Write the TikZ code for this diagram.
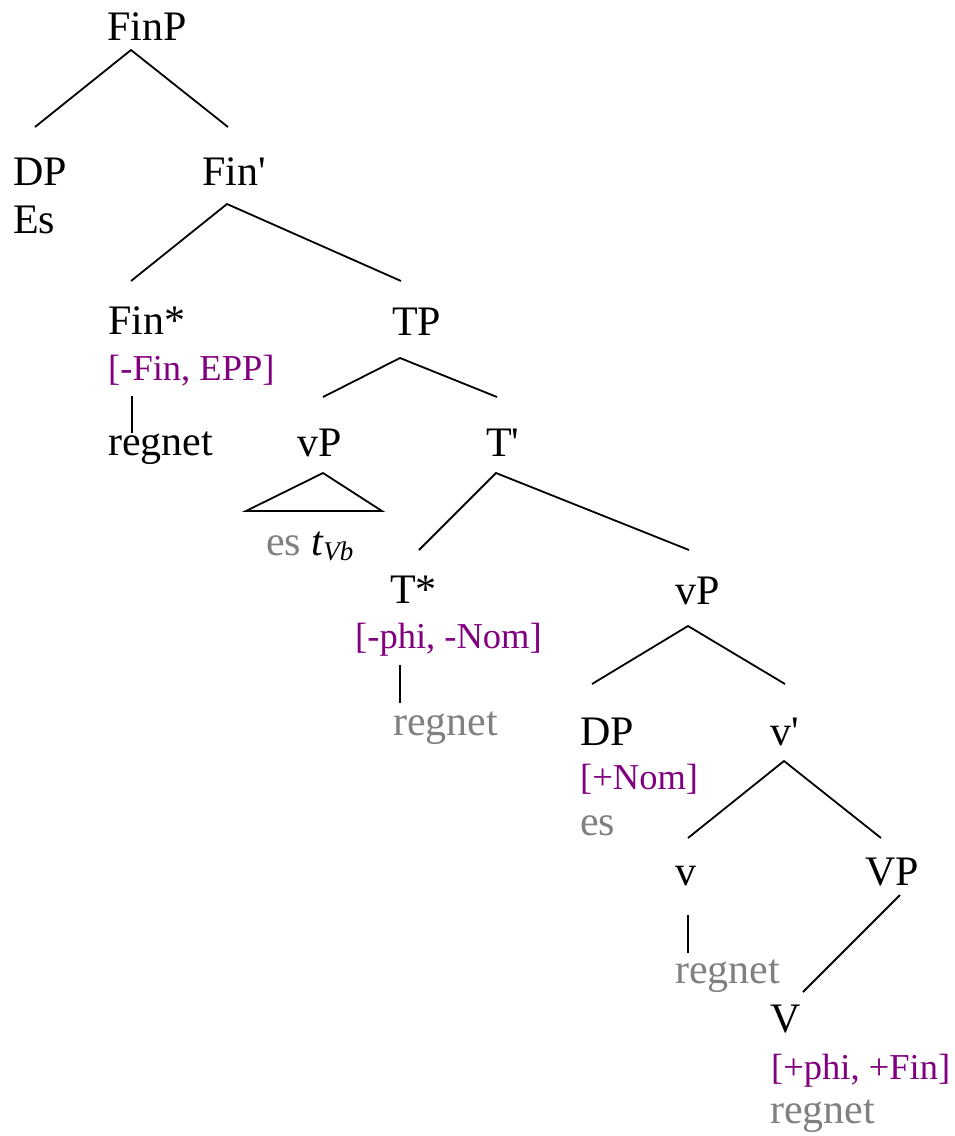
\documentclass[tikz,border=0pt]{standalone}
\usepackage{fontspec}
\setmainfont{Liberation Serif}
\usepackage{tikz}
\definecolor{featpurple}{RGB}{128,0,128}
\definecolor{tracegray}{RGB}{128,128,128}

\begin{document}
\begin{tikzpicture}[x=1pt,y=-1pt,
  lab/.style={anchor=base west,inner sep=0pt,font=\fontsize{42}{48}\selectfont},
  feat/.style={lab,text=featpurple,font=\fontsize{36.5}{42}\selectfont},
  trace/.style={lab,text=tracegray},
  branch/.style={line width=1.8pt}]
\useasboundingbox[fill=white] (0,0) rectangle (955,1136);
% labels
\node[lab] (FinP) at (107,40) {FinP};
\node[lab] (DP) at (13,185) {DP};
\node[lab] (Es) at (13,233) {Es};
\node[lab] (Finbar) at (202,185) {Fin\textquotesingle};
\node[lab] (Finstar) at (108,334) {Fin*};
\node[feat] (Finfeat) at (108,380) {[-Fin, EPP]};
\node[lab] (Finword) at (108,455) {regnet};
\node[lab] (TP) at (392,335) {TP};
\node[lab] (vPa) at (297,456) {vP};
\node[lab] (Tbar) at (486,456) {T\textquotesingle};
\node[lab] (vPaword) at (266,555)
  {\textcolor{tracegray}{es} \itshape t\raisebox{-5pt}{\fontsize{27}{27}\selectfont Vb}};
\node[lab] (Tstar) at (390,603) {T*};
\node[feat] (Tfeat) at (355,648) {[-phi, -Nom]};
\node[trace] (Tword) at (393,735) {regnet};
\node[lab] (vPb) at (675,604) {vP};
\node[lab] (DPb) at (580,745) {DP};
\node[feat] (DPfeat) at (580,789) {[+Nom]};
\node[trace] (DPword) at (580,835) {es};
\node[lab] (vbar) at (770,745) {v\textquotesingle};
\node[lab] (v) at (675,885) {v};
\node[trace] (vword) at (675,983) {regnet};
\node[lab] (VP) at (865,885) {VP};
\node[lab] (V) at (770,1032) {V};
\node[feat] (Vfeat) at (771,1079) {[+phi, +Fin]};
\node[trace] (Vword) at (770,1123) {regnet};
% branch points
\coordinate (FinP-d) at (131,50);
\coordinate (DP-u) at (35,127);
\coordinate (Finbar-u) at (228,127);
\coordinate (Finbar-d) at (227,204);
\coordinate (Finstar-u) at (131,281);
\coordinate (TP-u) at (401,281);
\coordinate (Finfeat-d) at (132,396);
\coordinate (Finword-u) at (132,433);
\coordinate (TP-d) at (400,358);
\coordinate (vPa-u) at (323,397);
\coordinate (Tbar-u) at (497,397);
\coordinate (vPa-d) at (323,473);
\coordinate (vPa-l) at (246,511);
\coordinate (vPa-r) at (382,511);
\coordinate (Tbar-d) at (496,473);
\coordinate (Tstar-u) at (419,550);
\coordinate (vPb-u) at (689,550);
\coordinate (Tfeat-d) at (400,665);
\coordinate (Tword-u) at (400,703);
\coordinate (vPb-d) at (688,626);
\coordinate (DPb-u) at (592,684);
\coordinate (vbar-u) at (785,684);
\coordinate (vbar-d) at (784,761);
\coordinate (v-u) at (688,838);
\coordinate (VP-u) at (881,838);
\coordinate (v-d) at (688,915);
\coordinate (vword-u) at (688,953);
\coordinate (VP-d) at (900,895);
\coordinate (V-u) at (803,992);
% branches
\draw[branch] (DP-u) -- (FinP-d) -- (Finbar-u);
\draw[branch] (Finstar-u) -- (Finbar-d) -- (TP-u);
\draw[branch] (Finfeat-d) -- (Finword-u);
\draw[branch] (vPa-u) -- (TP-d) -- (Tbar-u);
\draw[branch] (vPa-d) -- (vPa-l) -- (vPa-r) -- cycle;
\draw[branch] (Tstar-u) -- (Tbar-d) -- (vPb-u);
\draw[branch] (Tfeat-d) -- (Tword-u);
\draw[branch] (DPb-u) -- (vPb-d) -- (vbar-u);
\draw[branch] (v-u) -- (vbar-d) -- (VP-u);
\draw[branch] (v-d) -- (vword-u);
\draw[branch] (VP-d) -- (V-u);
\end{tikzpicture}
\end{document}
